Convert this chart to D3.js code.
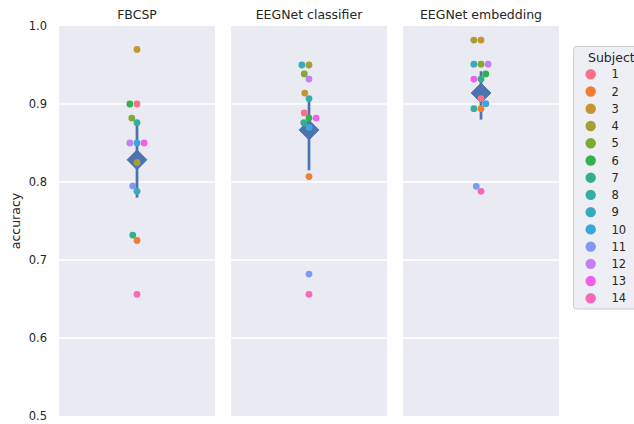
<!DOCTYPE html>
<html>
<head>
<meta charset="utf-8">
<script src="https://cdn.jsdelivr.net/npm/d3@7"></script>
<style>
  html, body { margin: 0; padding: 0; background: #ffffff; }
  svg { display: block; }
  text { font-family: "DejaVu Sans", sans-serif; fill: #262626; }
</style>
</head>
<body>
<svg id="chart" width="634" height="424"></svg>
<script>
// ---------------- data ----------------
const methods = ["FBCSP", "EEGNet classifier", "EEGNet embedding"];
const subjects = [1, 2, 3, 4, 5, 6, 7, 8, 9, 10, 11, 12, 13, 14];
// accuracy per subject (index = subject-1)
const accFBCSP      = [0.900, 0.725, 0.970, 0.825, 0.882, 0.900, 0.732, 0.876, 0.788, 0.850, 0.795, 0.850, 0.850, 0.656];
const accClassifier = [0.8885, 0.807, 0.914, 0.950, 0.9385, 0.882, 0.876, 0.907, 0.950, 0.870, 0.682, 0.932, 0.882, 0.656];
const accEmbedding  = [0.907, 0.894, 0.982, 0.982, 0.951, 0.9385, 0.932, 0.894, 0.951, 0.9004, 0.7945, 0.951, 0.932, 0.788];
// 95% CI of the mean as drawn (low, high) per method
const ciLow  = [0.780, 0.815, 0.880];
const ciHigh = [0.874, 0.906, 0.942];
const yTicks = [0.5, 0.6, 0.7, 0.8, 0.9, 1.0];
const yLabel = "accuracy";
const legendTitle = "Subject";

const accByMethod = [accFBCSP, accClassifier, accEmbedding];

// ---------------- husl palette (seaborn husl_palette) ----------------
const HM = [[3.240969941904521, -1.537383177570093, -0.498610760293],
            [-0.96924363628087, 1.87596750150772, 0.041555057407175],
            [0.055630079696993, -0.20397695888897, 1.056971514242878]];
const refU = 0.19783000664283, refV = 0.46831999493879, kappa = 903.2962962, eps = 0.0088564516;
function bounds(L) {
  const sub1 = Math.pow(L + 16, 3) / 1560896;
  const sub2 = sub1 > eps ? sub1 : L / kappa;
  const res = [];
  for (const [m1, m2, m3] of HM) {
    for (const t of [0, 1]) {
      const top1 = (284517 * m1 - 94839 * m3) * sub2;
      const top2 = (838422 * m3 + 769860 * m2 + 731718 * m1) * L * sub2 - 769860 * t * L;
      const bottom = (632260 * m3 - 126452 * m2) * sub2 + 126452 * t;
      res.push([top1 / bottom, top2 / bottom]);
    }
  }
  return res;
}
function maxChroma(L, H) {
  const hr = H / 360 * 2 * Math.PI;
  let mn = Infinity;
  for (const [s, i] of bounds(L)) {
    const len = i / (Math.sin(hr) - s * Math.cos(hr));
    if (len >= 0) mn = Math.min(mn, len);
  }
  return mn;
}
function husl(H, S, L) {
  const C = maxChroma(L, H) / 100 * S;
  const hr = H / 360 * 2 * Math.PI;
  const U = C * Math.cos(hr), V = C * Math.sin(hr);
  const varU = U / (13 * L) + refU, varV = V / (13 * L) + refV;
  const Y = L <= 8 ? L / kappa : Math.pow((L + 16) / 116, 3);
  const X = -(9 * Y * varU) / ((varU - 4) * varV - varU * varV);
  const Z = (9 * Y - 15 * varV * Y - varV * X) / (3 * varV);
  const rgb = HM.map(r => {
    const c = r[0] * X + r[1] * Y + r[2] * Z;
    const v = c <= 0.0031308 ? 12.92 * c : 1.055 * Math.pow(c, 1 / 2.4) - 0.055;
    return Math.round(Math.max(0, Math.min(1, v)) * 255);
  });
  return d3.rgb(rgb[0], rgb[1], rgb[2]).formatHex();
}
const palette = subjects.map((s, i) => husl(((i / subjects.length + 0.01) % 1) * 359, 89.1, 64.35));
const color = d3.scaleOrdinal().domain(subjects).range(palette);

// ---------------- layout ----------------
const svg = d3.select("#chart");
const yTop = 26, yBottom = 416;
const y = d3.scaleLinear().domain([0.5, 1.0]).range([yBottom, yTop]);
const fx = d3.scaleBand().domain(methods).range([59, 559]).paddingInner(16 / 172).paddingOuter(0);
const panelBg = "#eaeaf2";
const pointColor = "#4c72b0";
const R = 3.4;

// y axis
const yAxis = d3.axisLeft(y).tickValues(yTicks).tickFormat(d3.format(".1f")).tickSize(0).tickPadding(12);
const ga = svg.append("g").attr("transform", `translate(59,0)`).call(yAxis);
ga.select(".domain").remove();
ga.selectAll("text").attr("font-size", 11.5).attr("fill", "#262626").style("font-family", "DejaVu Sans");

svg.append("text")
  .attr("transform", `translate(20,${(yTop + yBottom) / 2}) rotate(-90)`)
  .attr("text-anchor", "middle")
  .attr("font-size", 12.5)
  .text(yLabel);

// beeswarm like seaborn
function swarm(values, cx) {
  const pts = values.map((v, i) => ({ subject: subjects[i], v, y: y(v), x: cx }));
  const order = d3.range(pts.length).sort((a, b) => (pts[a].v - pts[b].v) || (a - b));
  const placed = [];
  const d = 2 * R;
  for (const idx of order) {
    const p = pts[idx];
    const neighbors = [];
    for (let j = placed.length - 1; j >= 0; j--) {
      const q = placed[j];
      if (Math.abs(p.y - q.y) < d) neighbors.push(q); else break;
    }
    const cands = [cx];
    let leftFirst = true;
    for (const q of neighbors) {
      const dy = p.y - q.y;
      const dx = Math.sqrt(Math.max(d * d - dy * dy, 0)) * 1.05;
      if (leftFirst) cands.push(q.x - dx, q.x + dx); else cands.push(q.x + dx, q.x - dx);
      leftFirst = !leftFirst;
    }
    const sorted = d3.range(cands.length).sort((a, b) => (Math.abs(cands[a] - cx) - Math.abs(cands[b] - cx)) || (a - b)).map(k => cands[k]);
    let chosen = sorted[0];
    for (const c of sorted) {
      let ok = true;
      for (const q of neighbors) {
        const ddx = c - q.x, ddy = p.y - q.y;
        if (ddx * ddx + ddy * ddy - d * d < -1e-6) { ok = false; break; }
      }
      if (ok) { chosen = c; break; }
    }
    p.x = chosen;
    placed.push(p);
  }
  return pts;
}

methods.forEach((m, mi) => {
  const x0 = fx(m), w = fx.bandwidth();
  const cx = x0 + w / 2;
  const g = svg.append("g");
  g.append("rect").attr("x", x0).attr("y", yTop).attr("width", w).attr("height", yBottom - yTop).attr("fill", panelBg);
  g.selectAll("line.grid").data(yTicks.filter(t => t > 0.5 && t < 1.0)).join("line")
    .attr("class", "grid")
    .attr("x1", x0).attr("x2", x0 + w)
    .attr("y1", d => y(d)).attr("y2", d => y(d))
    .attr("stroke", "#ffffff").attr("stroke-width", 1.3);
  // title
  svg.append("text").attr("x", cx).attr("y", 19).attr("text-anchor", "middle").attr("font-size", 12.5).text(m);

  // point plot: CI bar + mean diamond
  const mean = d3.mean(accByMethod[mi]);
  g.append("line").attr("x1", cx).attr("x2", cx).attr("y1", y(ciLow[mi])).attr("y2", y(ciHigh[mi]))
    .attr("stroke", pointColor).attr("stroke-width", 2.7);
  const ds = 10;
  g.append("path")
    .attr("d", `M${cx},${y(mean) - ds}L${cx + ds},${y(mean)}L${cx},${y(mean) + ds}L${cx - ds},${y(mean)}Z`)
    .attr("fill", pointColor).attr("stroke", pointColor).attr("stroke-width", 0.8);

  // swarm points
  const pts = swarm(accByMethod[mi], cx);
  g.selectAll("circle.pt").data(pts).join("circle")
    .attr("class", "pt")
    .attr("cx", d => d.x).attr("cy", d => d.y).attr("r", R)
    .attr("fill", d => color(d.subject));
});

// legend
const lg = svg.append("g");
lg.append("rect").attr("x", 573.5).attr("y", 46.5).attr("width", 90).attr("height", 262.5).attr("rx", 3)
  .attr("fill", "#eeeef5").attr("stroke", "#cccccc").attr("stroke-width", 1);
lg.append("text").attr("x", 588).attr("y", 62).attr("font-size", 12.5).text(legendTitle);
const ly = d3.scalePoint().domain(subjects).range([74.3, 298.3]);
lg.selectAll("circle").data(subjects).join("circle")
  .attr("cx", 590.7).attr("cy", d => ly(d)).attr("r", 5.2).attr("fill", d => color(d));
lg.selectAll("text.lab").data(subjects).join("text").attr("class", "lab")
  .attr("x", 611.5).attr("y", d => ly(d)).attr("dy", "0.36em").attr("font-size", 11.5).text(d => d);
</script>
</body>
</html>
